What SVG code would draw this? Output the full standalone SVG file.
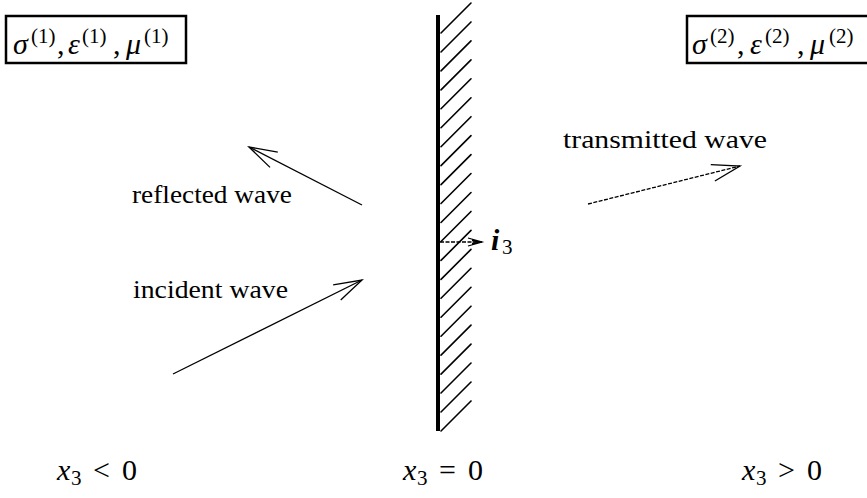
<svg xmlns="http://www.w3.org/2000/svg" width="867" height="498" viewBox="0 0 867 498">
<style>
text{fill:#000}
.txt{font-size:26px}
.m{font-size:30px}
.mi{font-size:30px;font-style:italic}
.sup{font-size:21px}
.box{fill:#fff;stroke:#000;stroke-width:2.5}
.hatch{stroke:#000;stroke-width:1.6;stroke-linecap:round}
.arr{fill:none;stroke:#000;stroke-width:1.3}
.dot{stroke-dasharray:4 1.5}
</style>
<defs>
<marker id="head" markerUnits="userSpaceOnUse" viewBox="-30 -10 32 20" markerWidth="32" markerHeight="20" refX="0" refY="0" orient="auto" overflow="visible">
<path d="M-28,-8.5 L0,0 L-28,8.5" fill="none" stroke="#000" stroke-width="1.3"/>
</marker>
<marker id="small" markerUnits="userSpaceOnUse" viewBox="-16 -6 18 12" markerWidth="18" markerHeight="12" refX="0" refY="0" orient="auto" overflow="visible">
<path d="M-14,-4 L0,0 L-14,4 M-10,-1.5 L-2,0 L-10,1.5" fill="none" stroke="#000" stroke-width="1.3"/>
</marker>
</defs>

<g font-family="Liberation Serif, serif">
<g id="medium1">
<rect class="box" x="6" y="16" width="180" height="47"/>
<text class="mi" x="13" y="54">σ</text>
<text class="sup" x="31" y="43">(1)</text>
<text class="m" x="57" y="54">,</text>
<text class="mi" x="68" y="54">ε</text>
<text class="sup" x="82" y="43">(1)</text>
<text class="m" x="113" y="54">,</text>
<text class="mi" x="126" y="54">μ</text>
<text class="sup" x="144" y="43">(1)</text>
</g>

<g id="medium2">
<rect class="box" x="687" y="16" width="190" height="47"/>
<text class="mi" x="692" y="54">σ</text>
<text class="sup" x="710" y="43">(2)</text>
<text class="m" x="737" y="54">,</text>
<text class="mi" x="750" y="54">ε</text>
<text class="sup" x="765" y="43">(2)</text>
<text class="m" x="797" y="54">,</text>
<text class="mi" x="810" y="54">μ</text>
<text class="sup" x="829" y="43">(2)</text>
</g>

<g id="wall">
<rect x="436" y="15" width="4" height="416" fill="#000"/>
<g class="hatch">
<line x1="441" y1="33" x2="471" y2="3"/>
<line x1="441" y1="51.95" x2="471" y2="21.95"/>
<line x1="441" y1="70.9" x2="471" y2="40.9"/>
<line x1="441" y1="89.85" x2="471" y2="59.85"/>
<line x1="441" y1="108.8" x2="471" y2="78.8"/>
<line x1="441" y1="127.75" x2="471" y2="97.75"/>
<line x1="441" y1="146.7" x2="471" y2="116.7"/>
<line x1="441" y1="165.65" x2="471" y2="135.65"/>
<line x1="441" y1="184.6" x2="471" y2="154.6"/>
<line x1="441" y1="203.55" x2="471" y2="173.55"/>
<line x1="441" y1="222.5" x2="471" y2="192.5"/>
<line x1="441" y1="241.45" x2="471" y2="211.45"/>
<line x1="441" y1="260.4" x2="471" y2="230.4"/>
<line x1="441" y1="279.35" x2="471" y2="249.35"/>
<line x1="441" y1="298.3" x2="471" y2="268.3"/>
<line x1="441" y1="317.25" x2="471" y2="287.25"/>
<line x1="441" y1="336.2" x2="471" y2="306.2"/>
<line x1="441" y1="355.15" x2="471" y2="325.15"/>
<line x1="441" y1="374.1" x2="471" y2="344.1"/>
<line x1="441" y1="393.05" x2="471" y2="363.05"/>
<line x1="441" y1="412" x2="471" y2="382"/>
<line x1="441" y1="430.95" x2="471" y2="400.95"/>
</g>
</g>

<g id="connectors">
<line class="arr" x1="362" y1="205" x2="249" y2="147" marker-end="url(#head)"/>
<line class="arr" x1="173" y1="374" x2="362" y2="280" marker-end="url(#head)"/>
<line class="arr dot" x1="588" y1="204" x2="740" y2="166" marker-end="url(#head)"/>
<line class="arr dot" x1="440" y1="242" x2="482" y2="242" marker-end="url(#small)"/>
</g>

<g id="label-reflected"><text class="txt" x="132" y="203" textLength="160" lengthAdjust="spacingAndGlyphs">reflected wave</text></g>
<g id="label-incident"><text class="txt" x="133" y="298" textLength="155" lengthAdjust="spacingAndGlyphs">incident wave</text></g>
<g id="label-transmitted"><text class="txt" x="563" y="148" textLength="204" lengthAdjust="spacingAndGlyphs">transmitted wave</text></g>

<g id="label-i3">
<text class="mi" x="491" y="250" font-weight="bold">i</text>
<text class="sup" x="502" y="254">3</text>
</g>

<g id="label-left">
<text class="mi" x="57" y="480">x</text>
<text class="sup" x="71" y="485">3</text>
<text class="m" x="93" y="480">&lt;</text>
<text class="m" x="122" y="480">0</text>
</g>
<g id="label-center">
<text class="mi" x="403" y="480">x</text>
<text class="sup" x="417" y="485">3</text>
<text class="m" x="439" y="480">=</text>
<text class="m" x="468" y="480">0</text>
</g>
<g id="label-right">
<text class="mi" x="742" y="480">x</text>
<text class="sup" x="756" y="485">3</text>
<text class="m" x="778" y="480">&gt;</text>
<text class="m" x="807" y="480">0</text>
</g>
</g>
</svg>
